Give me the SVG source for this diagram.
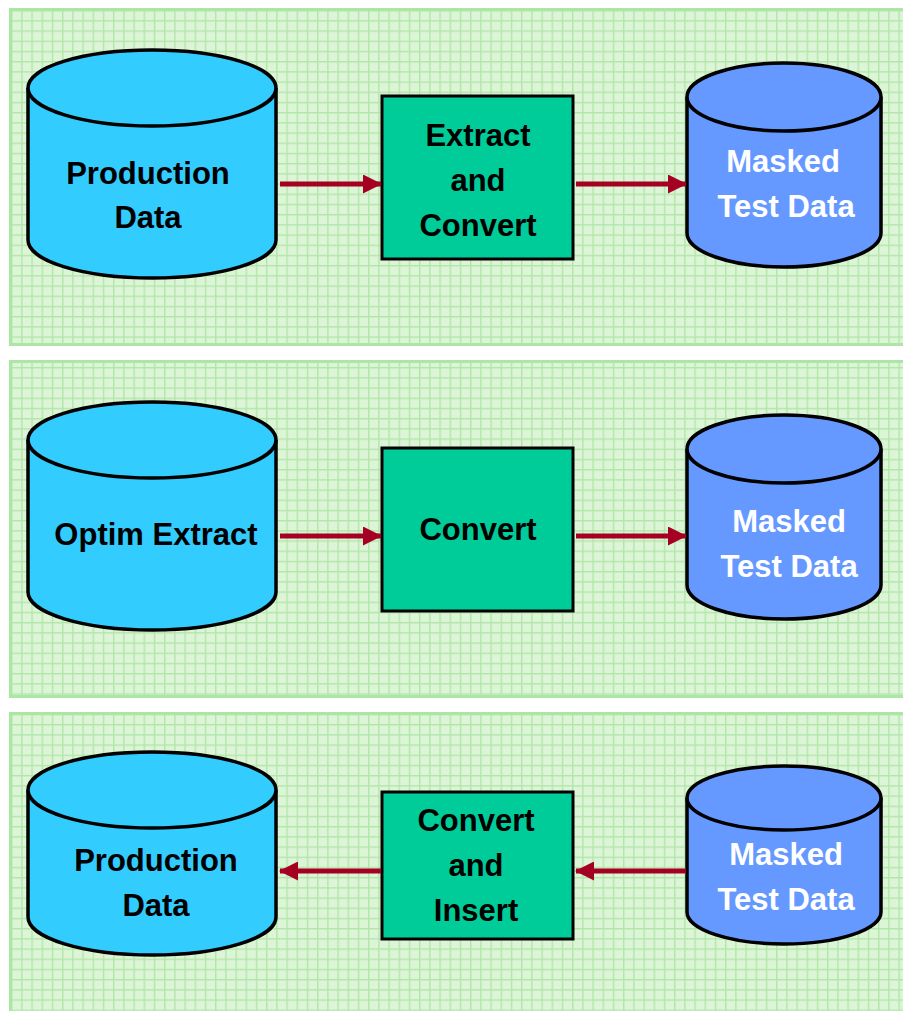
<svg xmlns="http://www.w3.org/2000/svg" width="903" height="1011" viewBox="0 0 903 1011">
  <defs>
    <pattern id="grid" x="11" y="10" width="10.2" height="10.2" patternUnits="userSpaceOnUse">
      <rect width="10.2" height="10.2" fill="#dcf5d6"/>
      <path d="M0 0.7 H10.2 M0.7 0 V10.2" stroke="#b3e6ab" stroke-width="1.4" fill="none"/>
    </pattern>
    <marker id="head" viewBox="0 0 19 19" refX="18" refY="9.5" markerWidth="19" markerHeight="19" markerUnits="userSpaceOnUse" orient="auto">
      <path d="M0 0 L19 9.5 L0 19 Z" fill="#a50021"/>
    </marker>
    <style>
      .panel { fill: url(#grid); stroke: #ace6a4; stroke-width: 3; }
      .src { fill: #33ccff; stroke: #000; stroke-width: 3.5; }
      .dst { fill: #6699ff; stroke: #000; stroke-width: 3.5; }
      .box { fill: #00cc99; stroke: #000; stroke-width: 3; }
      .conn { stroke: #a50021; stroke-width: 5; fill: none; marker-end: url(#head); }
      text { font-family: "Liberation Sans", Arial, sans-serif; font-weight: bold; font-size: 31px; text-anchor: middle; }
      .dark { fill: #000; }
      .light { fill: #fff; }
    </style>
  </defs>

  <rect width="903" height="1011" fill="#ffffff"/>

  <!-- background panels -->
  <g id="panels">
    <rect class="panel" x="10.5" y="9.5" width="900" height="335"/>
    <rect class="panel" x="10.5" y="361.5" width="900" height="335"/>
    <rect class="panel" x="10.5" y="713.5" width="900" height="310"/>
  </g>

  <!-- row 1 -->
  <g id="production-1">
    <path class="src" d="M28 88 A124 38 0 0 1 276 88 V240 A124 38 0 0 1 28 240 Z"/>
    <path class="src" d="M28 88 A124 38 0 0 0 276 88" fill="none"/>
    <text class="dark" x="148" y="184">Production</text>
    <text class="dark" x="148" y="228">Data</text>
  </g>
  <g id="extract-convert">
    <rect class="box" x="382" y="96" width="191" height="163"/>
    <text class="dark" x="478" y="146">Extract</text>
    <text class="dark" x="478" y="191">and</text>
    <text class="dark" x="478" y="236">Convert</text>
  </g>
  <g id="masked-1">
    <path class="dst" d="M687 97 A97 34 0 0 1 881 97 V233 A97 34 0 0 1 687 233 Z"/>
    <path class="dst" d="M687 97 A97 34 0 0 0 881 97" fill="none"/>
    <text class="light" x="783" y="172">Masked</text>
    <text class="light" x="786" y="217">Test Data</text>
  </g>

  <!-- row 2 -->
  <g id="optim-extract">
    <path class="src" d="M28 440 A124 38 0 0 1 276 440 V592 A124 38 0 0 1 28 592 Z"/>
    <path class="src" d="M28 440 A124 38 0 0 0 276 440" fill="none"/>
    <text class="dark" x="156" y="545">Optim Extract</text>
  </g>
  <g id="convert">
    <rect class="box" x="382" y="448" width="191" height="163"/>
    <text class="dark" x="478" y="540">Convert</text>
  </g>
  <g id="masked-2">
    <path class="dst" d="M687 449 A97 34 0 0 1 881 449 V585 A97 34 0 0 1 687 585 Z"/>
    <path class="dst" d="M687 449 A97 34 0 0 0 881 449" fill="none"/>
    <text class="light" x="789" y="532">Masked</text>
    <text class="light" x="789" y="577">Test Data</text>
  </g>

  <!-- row 3 -->
  <g id="production-3">
    <path class="src" d="M28 790 A124 38 0 0 1 276 790 V917 A124 38 0 0 1 28 917 Z"/>
    <path class="src" d="M28 790 A124 38 0 0 0 276 790" fill="none"/>
    <text class="dark" x="156" y="871">Production</text>
    <text class="dark" x="156" y="916">Data</text>
  </g>
  <g id="convert-insert">
    <rect class="box" x="382" y="792" width="191" height="147"/>
    <text class="dark" x="476" y="831">Convert</text>
    <text class="dark" x="476" y="876">and</text>
    <text class="dark" x="476" y="921">Insert</text>
  </g>
  <g id="masked-3">
    <path class="dst" d="M687 798 A97 32 0 0 1 881 798 V912 A97 32 0 0 1 687 912 Z"/>
    <path class="dst" d="M687 798 A97 32 0 0 0 881 798" fill="none"/>
    <text class="light" x="786" y="865">Masked</text>
    <text class="light" x="786" y="910">Test Data</text>
  </g>

  <!-- connectors -->
  <g id="connectors">
    <line class="conn" x1="280" y1="184" x2="381" y2="184"/>
    <line class="conn" x1="576" y1="184" x2="686" y2="184"/>
    <line class="conn" x1="280" y1="536" x2="381" y2="536"/>
    <line class="conn" x1="576" y1="536" x2="686" y2="536"/>
    <line class="conn" x1="381" y1="871" x2="280" y2="871"/>
    <line class="conn" x1="686" y1="871" x2="576" y2="871"/>
  </g>
</svg>
